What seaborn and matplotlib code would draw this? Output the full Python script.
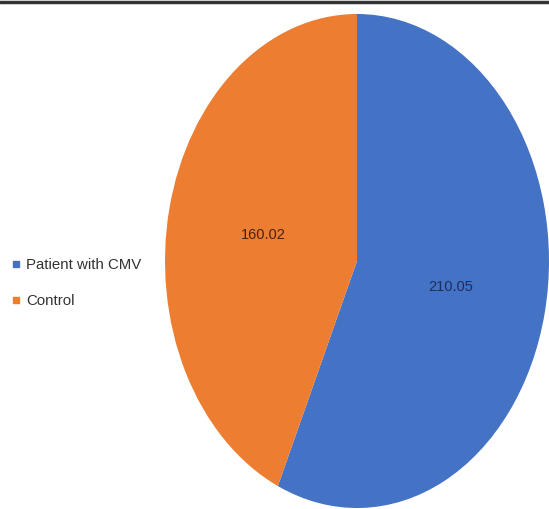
import matplotlib.pyplot as plt
import seaborn as sns
from matplotlib.lines import Line2D

categories = ["Patient with CMV", "Control"]
values = [210.05, 160.02]
label_colors = ["#1f2d5c", "#4a220a"]

sns.set_theme(style="white")
plt.rcParams["font.family"] = ["Liberation Sans", "DejaVu Sans"]

colors = ["#4472C4", "#ED7D31"]

fig = plt.figure(figsize=(5.49, 5.09), dpi=100)
ax = fig.add_axes([165 / 549, 1 - 508 / 509, 384 / 549, 494 / 509])

wedges, texts, autotexts = ax.pie(
    values, colors=colors, startangle=90, counterclock=False,
    autopct=lambda p: f"{p * sum(values) / 100:.2f}", pctdistance=0.5,
    wedgeprops=dict(linewidth=0), textprops=dict(fontsize=10.5),
)
for t, c in zip(autotexts, label_colors):
    t.set_color(c)
ax.set_aspect("auto")
ax.set_xlim(-1, 1)
ax.set_ylim(-1, 1)

handles = [Line2D([], [], marker="s", linestyle="none", color=c, markersize=5) for c in colors]
leg = fig.legend(handles, categories, loc="center left", bbox_to_anchor=(-0.006, 0.444),
                 frameon=False, fontsize=10.8, handletextpad=0.25, handlelength=0.8,
                 labelspacing=1.45)
for t in leg.get_texts():
    t.set_color("#333333")

fig.add_artist(Line2D([0, 1], [0.997, 0.997], transform=fig.transFigure, color="#333333", linewidth=2.5))

fig.savefig("out.png", dpi=100)
